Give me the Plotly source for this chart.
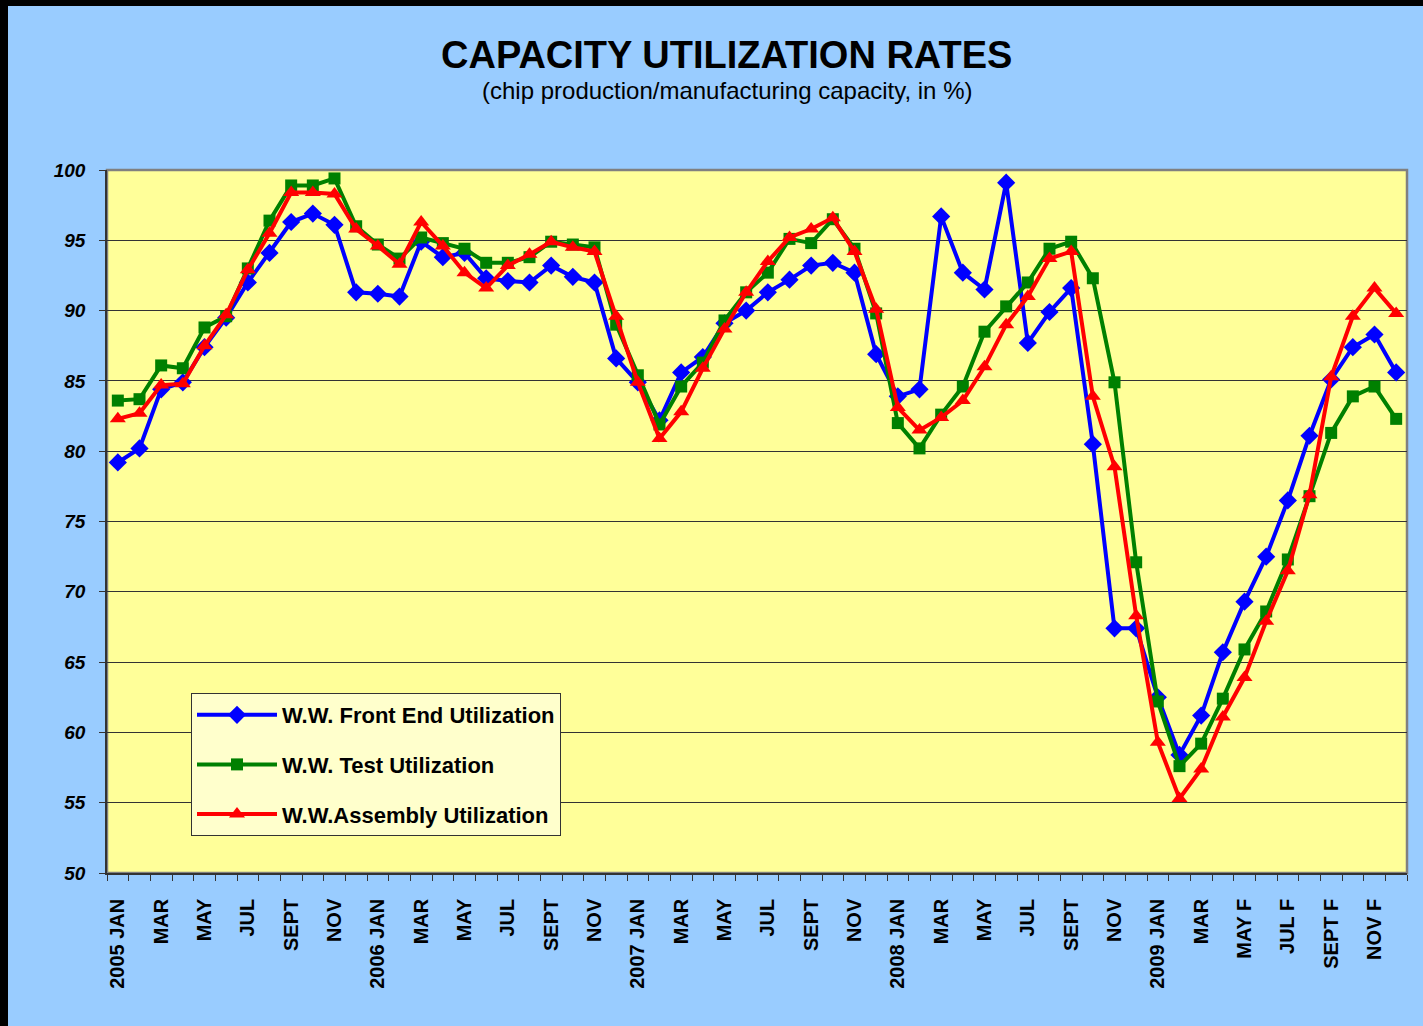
import plotly.graph_objects as go

months = ["JAN", "FEB", "MAR", "APR", "MAY", "JUN", "JUL", "AUG", "SEPT", "OCT", "NOV", "DEC"]
years = [2005, 2006, 2007, 2008, 2009]
categories = [f"{y} {m}" for y in years for m in months]

tick_labels = ["2005 JAN", "MAR", "MAY", "JUL", "SEPT", "NOV",
               "2006 JAN", "MAR", "MAY", "JUL", "SEPT", "NOV",
               "2007 JAN", "MAR", "MAY", "JUL", "SEPT", "NOV",
               "2008 JAN", "MAR", "MAY", "JUL", "SEPT", "NOV",
               "2009 JAN", "MAR", "MAY F", "JUL F", "SEPT F", "NOV F"]

front_end = [79.2, 80.2, 84.4, 84.9, 87.4, 89.5, 92.0, 94.1, 96.3, 96.9, 96.1, 91.3,
             91.2, 91.0, 94.9, 93.8, 94.1, 92.3, 92.1, 92.0, 93.2, 92.4, 92.0, 86.6,
             84.9, 82.2, 85.6, 86.7, 89.1, 90.0, 91.3, 92.2, 93.2, 93.4, 92.7, 86.9,
             83.9, 84.4, 96.7, 92.7, 91.5, 99.1, 87.7, 89.9, 91.6, 80.5, 67.4, 67.4,
             62.5, 58.4, 61.2, 65.7, 69.3, 72.5, 76.5, 81.1, 85.1, 87.4, 88.3, 85.6]

test = [83.6, 83.7, 86.1, 85.9, 88.8, 89.6, 93.0, 96.4, 98.9, 98.9, 99.4, 96.0,
        94.7, 93.7, 95.2, 94.8, 94.4, 93.4, 93.4, 93.8, 94.9, 94.7, 94.5, 89.0,
        85.4, 81.9, 84.6, 86.3, 89.3, 91.3, 92.7, 95.1, 94.8, 96.5, 94.4, 89.8,
        82.0, 80.2, 82.6, 84.6, 88.5, 90.3, 92.0, 94.4, 94.9, 92.3, 84.9, 72.1,
        62.2, 57.6, 59.2, 62.4, 65.9, 68.6, 72.3, 76.8, 81.3, 83.9, 84.6, 82.3]

assembly = [82.3, 82.7, 84.7, 84.8, 87.5, 89.7, 92.9, 95.5, 98.4, 98.4, 98.3, 95.8,
            94.6, 93.3, 96.3, 94.6, 92.7, 91.6, 93.2, 94.0, 94.9, 94.5, 94.2, 89.6,
            84.9, 80.9, 82.8, 85.9, 88.7, 91.3, 93.5, 95.2, 95.8, 96.6, 94.2, 90.1,
            83.1, 81.5, 82.4, 83.6, 86.0, 89.0, 91.0, 93.7, 94.2, 83.9, 78.9, 68.3,
            59.3, 55.3, 57.4, 61.1, 63.9, 67.9, 71.5, 76.9, 85.3, 89.6, 91.6, 89.8]

y_ticks = [50, 55, 60, 65, 70, 75, 80, 85, 90, 95, 100]

x = list(range(len(categories)))
FONT = "Liberation Sans, Arial, sans-serif"

fig = go.Figure()
series = [
    ("W.W. Front End Utilization", front_end, "#0000FF", "diamond", 14),
    ("W.W. Test Utilization", test, "#008000", "square", 12),
    ("W.W.Assembly Utilization", assembly, "#FF0000", "triangle-up", 14),
]
for name, vals, color, sym, size in series:
    fig.add_trace(go.Scatter(
        x=x, y=vals, name=name, mode="lines+markers",
        line=dict(color=color, width=4),
        marker=dict(symbol=sym, size=size, color=color),
        legendgroup=name, customdata=categories,
        hovertemplate="%{customdata}: %{y}<extra>" + name + "</extra>",
    ))

W, H = 1423, 1026
L, R, T, B = 107, 16, 170, 153
pw, ph = W - L - R, H - T - B


def px_x(p):
    return (p - L) / pw


def px_y(p):
    return (H - B - p) / ph


shapes = [
    # black frame strips at top and left edges
    dict(type="rect", xref="paper", yref="paper", x0=px_x(-20), x1=px_x(W + 20),
         y0=px_y(6), y1=px_y(-20), fillcolor="black", line=dict(width=0), layer="below"),
    dict(type="rect", xref="paper", yref="paper", x0=px_x(-20), x1=px_x(8),
         y0=px_y(H + 20), y1=px_y(-20), fillcolor="black", line=dict(width=0), layer="below"),
    # plot area frame
    dict(type="rect", xref="paper", yref="paper", x0=0, x1=1, y0=0, y1=1,
         line=dict(color="#808080", width=2.5), fillcolor="rgba(0,0,0,0)", layer="below"),
]

annotations = [
    dict(text="<b>CAPACITY UTILIZATION RATES</b>", xref="paper", yref="paper",
         x=px_x(726.5), y=px_y(55), xanchor="center", yanchor="middle", showarrow=False,
         font=dict(family=FONT, size=38, color="black")),
    dict(text="(chip production/manufacturing capacity, in %)", xref="paper", yref="paper",
         x=px_x(726.5), y=px_y(91), xanchor="center", yanchor="middle", showarrow=False,
         font=dict(family=FONT, size=24, color="black")),
]

fig.update_layout(
    width=W, height=H,
    margin=dict(l=L, r=R, t=T, b=B),
    paper_bgcolor="#99CCFF",
    plot_bgcolor="#FFFF99",
    showlegend=True,
    legend=dict(
        x=px_x(191), y=px_y(693), xanchor="left", yanchor="top",
        bgcolor="#FFFFCC", bordercolor="#333333", borderwidth=1,
        font=dict(family=FONT, size=22, color="black", weight="bold"),
        tracegroupgap=18, traceorder="grouped", itemwidth=80,
    ),
    shapes=shapes,
    annotations=annotations,
    xaxis=dict(
        range=[-0.5, len(categories) - 0.5],
        tickmode="array",
        tickvals=x[::2],
        ticktext=tick_labels,
        tickangle=-90,
        ticks="",
        tickfont=dict(family=FONT, size=20, color="black", weight="bold"),
        ticklabelstandoff=16,
        showgrid=False, zeroline=False,
        showline=True, linecolor="#333333", linewidth=1.5,
        minor=dict(ticks="outside", tickmode="linear", tick0=-0.5, dtick=1,
                   ticklen=6, tickcolor="#333333", tickwidth=1, showgrid=False),
        fixedrange=True,
    ),
    yaxis=dict(
        range=[50, 100],
        tickmode="array", tickvals=y_ticks,
        ticks="outside", ticklen=6, tickcolor="#333333",
        tickfont=dict(family=FONT, size=19, color="black", weight="bold", style="italic"),
        ticklabelstandoff=10,
        showgrid=True, gridcolor="#333333", gridwidth=1,
        zeroline=False,
        showline=True, linecolor="#333333", linewidth=1.5,
        fixedrange=True,
    ),
)

fig.write_html(
    "out.html",
    config={"displayModeBar": False},
    post_script="document.body.style.margin='0';document.body.style.overflow='hidden';",
)
